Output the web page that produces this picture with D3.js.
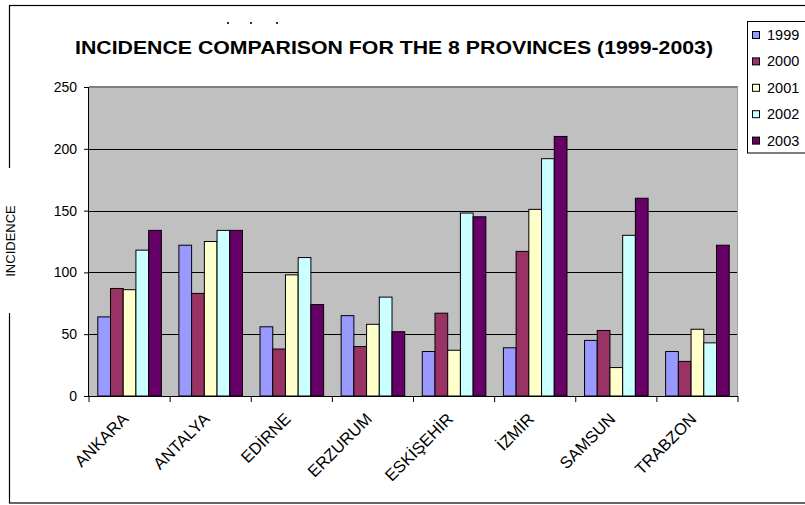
<!DOCTYPE html>
<html>
<head>
<meta charset="utf-8">
<script src="https://cdn.jsdelivr.net/npm/d3@7"></script>
<style>
  html, body { margin: 0; padding: 0; background: #fff; }
  svg { display: block; font-family: "Liberation Sans", Arial, sans-serif; }
</style>
</head>
<body>
<svg id="chart" width="805" height="505"></svg>
<script>
const categories = ["ANKARA", "ANTALYA", "EDİRNE", "ERZURUM", "ESKİŞEHİR", "İZMİR", "SAMSUN", "TRABZON"];
const years = ["1999", "2000", "2001", "2002", "2003"];
const v1999 = [64, 122, 56, 65, 36, 39, 45, 36];
const v2000 = [87, 83, 38, 40, 67, 117, 53, 28];
const v2001 = [86, 125, 98, 58, 37, 151, 23, 54];
const v2002 = [118, 134, 112, 80, 148, 192, 130, 43];
const v2003 = [134, 134, 74, 52, 145, 210, 160, 122];
const yTicks = [0, 50, 100, 150, 200, 250];
const colors = ["#9999FF", "#993366", "#FFFFCC", "#CCFFFF", "#660066"];
const titleText = "INCIDENCE COMPARISON FOR THE 8 PROVINCES (1999-2003)";
const yLabel = "INCIDENCE";

const series = [v1999, v2000, v2001, v2002, v2003];
const svg = d3.select("#chart");

// outer chart border
svg.append("rect").attr("x", 9.5).attr("y", 5.5).attr("width", 810).attr("height", 497.5)
  .attr("fill", "#fff").attr("stroke", "#000").attr("stroke-width", 1.2);

const L = 89, R = 738, T = 87, B = 396;

const x0 = d3.scaleBand().domain(categories).range([L, R]).paddingInner(0).paddingOuter(0);
const x1 = d3.scaleBand().domain(years).range([0, x0.bandwidth()]).paddingInner(0).paddingOuter(0.69);
const y = d3.scaleLinear().domain([0, 250]).range([B, T]);

// plot background
svg.append("rect").attr("x", L).attr("y", T).attr("width", R - L).attr("height", B - T)
  .attr("fill", "#C0C0C0");

// gridlines
svg.append("g").selectAll("line").data(yTicks.filter(d => d > 0 && d < 250)).join("line")
  .attr("x1", L).attr("x2", R)
  .attr("y1", d => Math.round(y(d)) + 0.5).attr("y2", d => Math.round(y(d)) + 0.5)
  .attr("stroke", "#000").attr("stroke-width", 1.2);
// top border of plot
svg.append("line").attr("x1", L).attr("x2", R).attr("y1", y(250)).attr("y2", y(250))
  .attr("stroke", "#808080").attr("stroke-width", 2);
svg.append("line").attr("x1", R - 0.5).attr("x2", R - 0.5).attr("y1", T).attr("y2", B)
  .attr("stroke", "#a0a0a0").attr("stroke-width", 1);

// bars
const groups = svg.append("g").selectAll("g").data(categories).join("g")
  .attr("transform", d => `translate(${x0(d)},0)`);
groups.selectAll("rect").data((c, ci) => years.map((yr, si) => ({ yr, si, v: series[si][ci] })))
  .join("rect")
  .attr("x", d => x1(d.yr))
  .attr("y", d => y(d.v))
  .attr("width", x1.bandwidth())
  .attr("height", d => B - y(d.v))
  .attr("fill", d => colors[d.si])
  .attr("stroke", "#000").attr("stroke-width", 1);

// y axis
const yAxis = d3.axisLeft(y).tickValues(yTicks).tickSize(5).tickPadding(7);
const gy = svg.append("g").attr("transform", `translate(${L},0)`).call(yAxis);
gy.select(".domain").attr("stroke", "#000").attr("d", `M-0.5,${T}V${B}`);
gy.selectAll("text").attr("font-size", 14).attr("fill", "#000")
  .attr("font-family", "Liberation Sans, Arial, sans-serif");

// x axis
const gx = svg.append("g").attr("transform", `translate(0,${B})`);
gx.append("line").attr("x1", L).attr("x2", R).attr("y1", 0.5).attr("y2", 0.5).attr("stroke", "#000");
const boundaries = categories.map(c => x0(c)).concat([R]);
gx.selectAll("line.tick").data(boundaries).join("line").attr("class", "tick")
  .attr("x1", d => d).attr("x2", d => d).attr("y1", 0).attr("y2", 6).attr("stroke", "#000");
gx.selectAll("text").data(categories).join("text")
  .attr("transform", d => `translate(${x0(d) + x0.bandwidth() / 2},24) rotate(-45)`)
  .attr("text-anchor", "end")
  .attr("font-size", 16.5)
  .attr("fill", "#000")
  .text(d => d);

// y label with white box covering border
svg.append("rect").attr("x", 2).attr("y", 168).attr("width", 16).attr("height", 145).attr("fill", "#fff");
svg.append("text").attr("transform", "translate(15,241) rotate(-90)")
  .attr("text-anchor", "middle").attr("font-size", 13).text(yLabel);

// title
const title = svg.append("text").attr("x", 394).attr("y", 54)
  .attr("text-anchor", "middle").attr("font-size", 18).attr("font-weight", "bold")
  .text(titleText);
const tl = title.node().getComputedTextLength();
if (Math.abs(tl - 638) > 4) title.attr("textLength", 638).attr("lengthAdjust", "spacingAndGlyphs");

// small dots above title
svg.append("g").selectAll("circle").data([0, 1, 2]).join("circle")
  .attr("cx", d => [228, 251, 277][d]).attr("cy", 23).attr("r", 1.1).attr("fill", "#000");

// legend
const lg = svg.append("g");
lg.append("rect").attr("x", 747.5).attr("y", 21.5).attr("width", 70).attr("height", 131.5)
  .attr("fill", "#fff").attr("stroke", "#000");
const items = lg.selectAll("g").data(years).join("g")
  .attr("transform", (d, i) => `translate(0,${35 + i * 26.4})`);
items.append("rect").attr("x", 752.5).attr("y", -3.5).attr("width", 7).attr("height", 7)
  .attr("fill", (d, i) => colors[i]).attr("stroke", "#000").attr("stroke-width", 1);
items.append("text").attr("x", 767).attr("y", 5).attr("font-size", 14.5).text(d => d);
</script>
</body>
</html>
